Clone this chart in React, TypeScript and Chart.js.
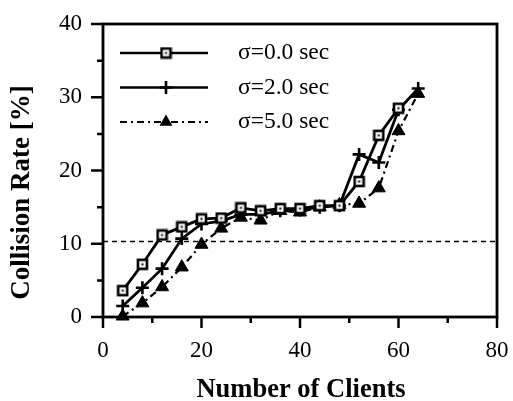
import React, { useEffect, useRef } from "react";
import { Chart, registerables } from "chart.js";

Chart.register(...registerables);

// ---- data ----
const clientsSigma0 = [4, 8, 12, 16, 20, 24, 28, 32, 36, 40, 44, 48, 52, 56, 60];
const rateSigma0 = [3.6, 7.2, 11.2, 12.3, 13.4, 13.5, 14.9, 14.5, 14.8, 14.8, 15.2, 15.2, 18.5, 24.8, 28.5];

const clientsSigma2 = [4, 8, 12, 16, 20, 24, 28, 32, 36, 40, 44, 48, 52, 56, 60, 64];
const rateSigma2 = [1.5, 4.0, 6.6, 10.7, 12.7, 13.1, 14.0, 14.0, 14.5, 14.6, 15.0, 15.2, 22.2, 21.1, 28.3, 31.2];

const clientsSigma5 = [4, 8, 12, 16, 20, 24, 28, 32, 36, 40, 44, 48, 52, 56, 60, 64];
const rateSigma5 = [0.1, 1.9, 4.1, 6.8, 9.9, 12.1, 13.6, 13.2, 14.5, 14.3, 15.0, 15.3, 15.5, 17.6, 25.4, 30.5];

const thresholdRate = 10.3;
const thresholdRange = [0, 80];

const seriesLabels = ["σ=0.0 sec", "σ=2.0 sec", "σ=5.0 sec"];
const xMajorTicks = [0, 20, 40, 60, 80];
const xMinorTicks = [10, 30, 50, 70];
const yMajorTicks = [0, 10, 20, 30, 40];
const yMinorTicks = [5, 15, 25, 35];
const xTitle = "Number of Clients";
const yTitle = "Collision Rate [%]";

const SERIF = "'Liberation Serif', 'Times New Roman', serif";

function makeSquareMarker(): HTMLCanvasElement {
  const c = document.createElement("canvas");
  c.width = 13;
  c.height = 13;
  const g = c.getContext("2d")!;
  g.fillStyle = "#fff";
  g.fillRect(1, 1, 11, 11);
  g.strokeStyle = "#000";
  g.lineWidth = 2.6;
  g.strokeRect(2, 2, 9, 9);
  g.fillStyle = "#000";
  g.fillRect(5.5, 5.5, 2, 2);
  return c;
}

function drawTriangle(ctx: CanvasRenderingContext2D, x: number, y: number, r: number) {
  ctx.beginPath();
  ctx.moveTo(x, y - r);
  ctx.lineTo(x + r * 0.866, y + r * 0.5);
  ctx.lineTo(x - r * 0.866, y + r * 0.5);
  ctx.closePath();
  ctx.fill();
}

export default function App() {
  const ref = useRef<HTMLCanvasElement | null>(null);

  useEffect(() => {
    if (!ref.current) return;
    const square = makeSquareMarker();

    const decor = {
      id: "decor",
      beforeDatasetsDraw(chart: any) {
        const { ctx, chartArea } = chart;
        const xs = chart.scales.x;
        const ys = chart.scales.y;
        ctx.save();
        ctx.strokeStyle = "#000";
        ctx.lineWidth = 2.8;
        ctx.strokeRect(chartArea.left, chartArea.top, chartArea.right - chartArea.left, chartArea.bottom - chartArea.top);
        ctx.lineWidth = 2.5;
        ctx.beginPath();
        for (const v of xMajorTicks) {
          const px = xs.getPixelForValue(v);
          ctx.moveTo(px, chartArea.bottom);
          ctx.lineTo(px, chartArea.bottom + 11);
        }
        for (const v of xMinorTicks) {
          const px = xs.getPixelForValue(v);
          ctx.moveTo(px, chartArea.bottom);
          ctx.lineTo(px, chartArea.bottom + 6);
        }
        for (const v of yMajorTicks) {
          const py = ys.getPixelForValue(v);
          ctx.moveTo(chartArea.left, py);
          ctx.lineTo(chartArea.left - 12, py);
        }
        for (const v of yMinorTicks) {
          const py = ys.getPixelForValue(v);
          ctx.moveTo(chartArea.left, py);
          ctx.lineTo(chartArea.left - 6, py);
        }
        ctx.stroke();
        ctx.restore();
      },
      afterDraw(chart: any) {
        const { ctx, chartArea } = chart;
        ctx.save();
        ctx.fillStyle = "#000";
        // axis titles
        ctx.font = `bold 26.5px ${SERIF}`;
        ctx.textAlign = "center";
        ctx.textBaseline = "alphabetic";
        ctx.fillText(xTitle, (chartArea.left + chartArea.right) / 2 + 1, 396.5);
        ctx.save();
        ctx.translate(29, 192.5);
        ctx.rotate(-Math.PI / 2);
        ctx.font = `bold 27px ${SERIF}`;
        ctx.fillText(yTitle, 0, 0);
        ctx.restore();

        // legend
        const rows = [53, 87.5, 122];
        const x0 = 120, x1 = 208, xm = 166;
        ctx.strokeStyle = "#000";
        for (let i = 0; i < 3; i++) {
          const y = rows[i];
          ctx.lineWidth = i === 2 ? 2.2 : 2.6;
          ctx.setLineDash(i === 2 ? [7, 4, 2, 4] : []);
          ctx.beginPath();
          ctx.moveTo(x0, y);
          ctx.lineTo(x1, y);
          ctx.stroke();
          ctx.setLineDash([]);
          if (i === 0) {
            ctx.drawImage(square, xm - 6.5, y - 6.5);
          } else if (i === 1) {
            ctx.lineWidth = 2.6;
            ctx.beginPath();
            ctx.moveTo(xm - 6.5, y);
            ctx.lineTo(xm + 6.5, y);
            ctx.moveTo(xm, y - 6.5);
            ctx.lineTo(xm, y + 6.5);
            ctx.stroke();
          } else {
            drawTriangle(ctx, xm, y, 7.5);
          }
          ctx.font = `23.5px ${SERIF}`;
          ctx.textAlign = "left";
          ctx.textBaseline = "middle";
          ctx.fillText(seriesLabels[i], 238, y);
        }
        ctx.restore();
      },
    };

    const toPts = (xs: number[], ys: number[]) => xs.map((x, i) => ({ x, y: ys[i] }));

    const hiddenTicks = {
      display: true,
      drawOnChartArea: false,
      drawTicks: true,
      tickColor: "rgba(0,0,0,0)",
    };

    const chart = new Chart(ref.current, {
      type: "scatter",
      data: {
        datasets: [
          {
            label: seriesLabels[0],
            data: toPts(clientsSigma0, rateSigma0),
            showLine: true,
            borderColor: "#000",
            borderWidth: 2.8,
            pointStyle: square as any,
            pointRadius: 6,
            clip: false as any,
          },
          {
            label: seriesLabels[1],
            data: toPts(clientsSigma2, rateSigma2),
            showLine: true,
            borderColor: "#000",
            borderWidth: 2.8,
            pointStyle: "cross",
            pointRadius: 6.5,
            pointBorderWidth: 2.6,
            pointBorderColor: "#000",
            clip: false as any,
          },
          {
            label: seriesLabels[2],
            data: toPts(clientsSigma5, rateSigma5),
            showLine: true,
            borderColor: "#000",
            borderWidth: 2.2,
            borderDash: [7, 4, 2, 4],
            pointStyle: "triangle",
            pointRadius: 7.5,
            pointBackgroundColor: "#000",
            pointBorderColor: "#000",
            pointBorderWidth: 1,
            clip: false as any,
          },
          {
            label: "threshold",
            data: thresholdRange.map((x) => ({ x, y: thresholdRate })),
            showLine: true,
            borderColor: "#000",
            borderWidth: 1.6,
            borderDash: [5, 4],
            pointRadius: 0,
          },
        ],
      },
      options: {
        animation: false,
        responsive: true,
        maintainAspectRatio: false,
        events: [],
        layout: { padding: { left: 0, right: 16, top: 24, bottom: 0 } },
        plugins: { legend: { display: false }, tooltip: { enabled: false } },
        scales: {
          x: {
            type: "linear",
            min: 0,
            max: 80,
            ticks: {
              stepSize: 20,
              color: "#000",
              padding: 0,
              maxRotation: 0,
              font: { family: SERIF, size: 23 },
            },
            grid: { ...hiddenTicks, tickLength: 20 },
            border: { display: false },
            title: { display: false },
            afterFit: (s: any) => {
              s.height = 84;
            },
          },
          y: {
            type: "linear",
            min: 0,
            max: 40,
            ticks: {
              stepSize: 10,
              color: "#000",
              padding: 0,
              font: { family: SERIF, size: 23 },
            },
            grid: { ...hiddenTicks, tickLength: 21 },
            border: { display: false },
            title: { display: false },
            afterFit: (s: any) => {
              s.width = 103;
            },
          },
        },
      },
      plugins: [decor],
    });

    return () => chart.destroy();
  }, []);

  return (
    <div style={{ position: "absolute", left: 0, top: 0, width: 513, height: 401, background: "#fff" }}>
      <canvas ref={ref} />
    </div>
  );
}
